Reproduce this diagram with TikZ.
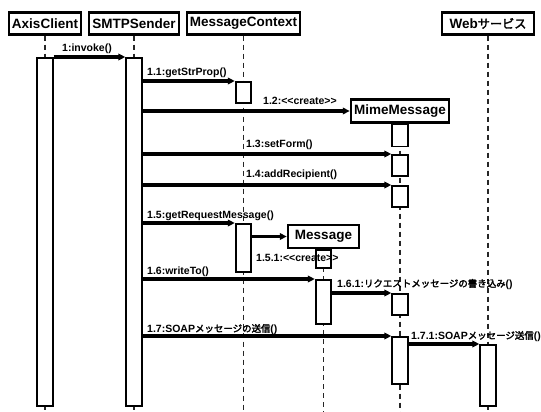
\documentclass[tikz,border=0pt]{standalone}
\usepackage{fontspec}
\setmainfont{Liberation Sans}
\newfontfamily\jp{Noto Sans CJK JP}[Scale=0.9, AutoFakeBold=2.5]
\usetikzlibrary{arrows.meta}
\newcommand\stereo[1]{\textless\kern0pt\textless #1\textgreater\kern0pt\textgreater}
\begin{document}
\begin{tikzpicture}[x=1pt,y=-1pt,
  head/.style={draw, fill=white, line width=2.4pt, inner sep=0pt, minimum height=22pt,
    font=\fontsize{13.5}{15}\selectfont\bfseries},
  act/.style={draw, fill=white, line width=1.8pt, minimum width=15.5pt, inner sep=0pt, anchor=north},
  life/.style={line width=1.3pt, dash pattern=on 5pt off 4pt, black!85},
  msg/.style={line width=3.2pt, -{Triangle[length=7pt,width=6.5pt]}},
  lbl/.style={font=\fontsize{10.5}{12}\selectfont\bfseries, anchor=base west, inner sep=0pt}]

\useasboundingbox (0,0) rectangle (541,412);
\coordinate (bot) at (0,412);

% object heads
\node[head, minimum width=72pt]  (ac)  at (45,23.5)   {AxisClient};
\node[head, minimum width=90pt]  (sm)  at (134,23.5)  {SMTPSender};
\node[head, minimum width=113pt] (mc)  at (243.5,23.5){MessageContext};
\node[head, minimum width=92pt]  (web) at (488,23.5)  {Web{\jp サービス}};
\node[head, minimum width=98pt, minimum height=23pt] (mime) at (400,111) {MimeMessage};
\node[head, minimum width=71pt, minimum height=23pt] (mobj) at (323.5,236.5) {Message};

% lifelines
\draw[life] (ac.south)   -- (ac.south |- bot);
\draw[life] (sm.south)   -- (sm.south |- bot);
\draw[life] (mc.south)   -- (mc.south |- bot);
\draw[life] (web.south)  -- (web.south |- bot);
\draw[life] (mime.south) -- (mime.south |- bot);
\draw[life] (mobj.south) -- (mobj.south |- bot);

% activation bars
\node[act, minimum height=348pt] (axact) at (45,57) {};
\node[act, minimum height=348pt] (smact) at (134,57) {};
\node[act, minimum height=21pt]  (mc1)   at (243.5,81) {};
\node[act, minimum height=48pt]  (mc2)   at (243.5,223) {};
\node[act, minimum height=22pt]  (mm1)   at (400,123.5) {};
\node[act, minimum height=21pt]  (mm2)   at (400,154) {};
\node[act, minimum height=21pt]  (mm3)   at (400,185) {};
\node[act, minimum height=21pt]  (mm4)   at (400,293) {};
\node[act, minimum height=47pt]  (mm5)   at (400,336) {};
\node[act, minimum height=18pt]  (ms1)   at (323.5,249) {};
\node[act, minimum height=44pt]  (ms2)   at (323.5,279) {};
\node[act, minimum height=61pt]  (wb1)   at (488,344) {};

% messages
\draw[msg] (axact.north east) -- (smact.north west);
\draw[msg] (smact.east |- mc1.north) -- (mc1.north west);
\draw[msg] (smact.east |- mime.west) -- (mime.west);
\draw[msg] (smact.east |- mm2.north) -- (mm2.north west);
\draw[msg] (smact.east |- mm3.north) -- (mm3.north west);
\draw[msg] (smact.east |- mc2.north) -- (mc2.north west);
\draw[msg] (mc2.east |- mobj.west) -- (mobj.west);
\draw[msg] (smact.east |- ms2.north) -- (ms2.north west);
\draw[msg] (ms2.east |- mm4.north) -- (mm4.north west);
\draw[msg] (smact.east |- mm5.north) -- (mm5.north west);
\draw[msg] (mm5.east |- wb1.north) -- (wb1.north west);

% message labels
\node[lbl] (t1)   at (62,52)   {1:invoke()};
\node[lbl] (t11)  at (147,75)  {1.1:getStrProp()};
\node[lbl] (t12)  at (263,104) {1.2:\stereo{create}};
\node[lbl] (t13)  at (246,147) {1.3:setForm()};
\node[lbl] (t14)  at (246,177) {1.4:addRecipient()};
\node[lbl] (t15)  at (147,218) {1.5:getRequestMessage()};
\node[lbl] (t151) at (256,261) {1.5.1:\stereo{create}};
\node[lbl] (t16)  at (147,274) {1.6:writeTo()};
\node[lbl] (t161) at (337,287) {1.6.1:{\jp リクエストメッセージの書き込み}()};
\node[lbl] (t17)  at (147,332) {1.7:SOAP{\jp メッセージの送信}()};
\node[lbl] (t171) at (411,339) {1.7.1:SOAP{\jp メッセージ送信}()};
\end{tikzpicture}
\end{document}
